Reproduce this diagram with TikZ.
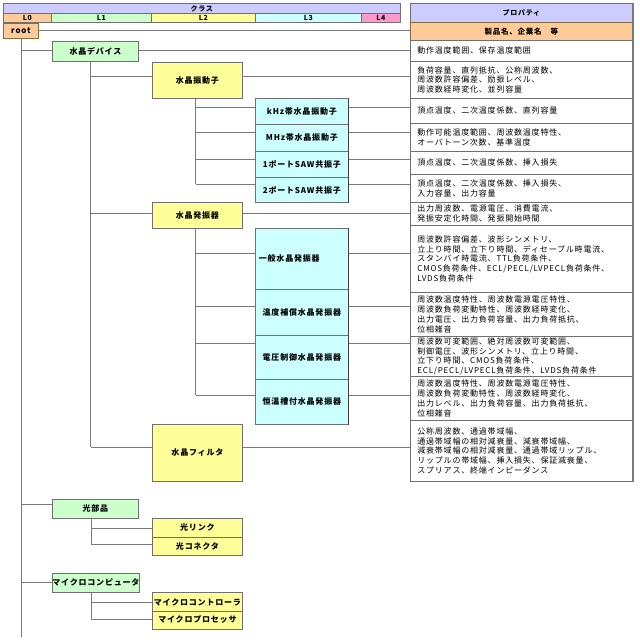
\documentclass[tikz,border=0pt]{standalone}
\usepackage{fontspec}
\setmainfont{Noto Sans CJK JP}[LetterSpace=10]
\definecolor{cPur}{HTML}{CCCCFF}
\definecolor{cOra}{HTML}{FFCC99}
\definecolor{cGrn}{HTML}{CCFFCC}
\definecolor{cYel}{HTML}{FFFF99}
\definecolor{cCya}{HTML}{CCFFFF}
\definecolor{cPnk}{HTML}{FF99CC}
\definecolor{cBd}{HTML}{707070}
\definecolor{cLn}{HTML}{7A7A7A}
\definecolor{cBrn}{HTML}{8A6A40}
\newcommand{\fsNode}{\fontsize{8}{9.8}\selectfont\bfseries}
\newcommand{\fsProp}{\fontsize{8}{9.8}\selectfont}
\newcommand{\fsHead}{\fontsize{7}{8}\selectfont\bfseries}
\tikzset{
  hdr/.style={draw=cBd, line width=0.7pt, inner sep=0pt, anchor=north west, font=\fsHead},
  cbox/.style={draw=cBd, line width=0.8pt, inner sep=0pt, anchor=north west, font=\fsNode, align=center},
  lone/.style={cbox, fill=cGrn, minimum width=86pt},
  ltwo/.style={cbox, fill=cYel, minimum width=90pt},
  lthree/.style={cbox, fill=cCya, minimum width=93pt},
  prow/.style={draw=cBd, line width=0.7pt, anchor=north west, inner xsep=7pt, inner ysep=0pt,
    text width=208pt, align=left, font=\fsProp},
  conn/.style={draw=cLn, line width=0.9pt},
}
\begin{document}
\begin{tikzpicture}[x=1pt,y=-1pt]
\useasboundingbox (0,0) rectangle (640,640);
% ---- header (class)
\node[hdr, fill=cPur, minimum width=397pt, minimum height=10pt] (cls) at (3,3) {クラス};
\node[hdr, fill=cOra, minimum width=48pt, minimum height=9pt] (l0) at (3,13) {L0};
\node[hdr, fill=cGrn, minimum width=100pt, minimum height=9pt] (l1) at (51,13) {L1};
\node[hdr, fill=cYel, minimum width=104pt, minimum height=9pt] (l2) at (151,13) {L2};
\node[hdr, fill=cCya, minimum width=106pt, minimum height=9pt] (l3) at (255,13) {L3};
\node[hdr, fill=cPnk, minimum width=39pt, minimum height=9pt] (l4) at (361,13) {L4};
% ---- property table
\node[prow, fill=cPur, minimum height=19pt, align=center, font=\fsHead] (p0) at (410,3) {プロパティ};
\node[prow, fill=cOra, draw=cBrn, minimum height=18pt, align=center, font=\fontsize{7.5}{8}\selectfont\bfseries] (p1) at (410,22) {製品名、企業名　等};
\node[prow, minimum height=21pt] (p2) at (410,40) {動作温度範囲、保存温度範囲};
\node[prow, minimum height=37pt] (p3) at (410,61) {負荷容量、直列抵抗、公称周波数、\\周波数許容偏差、励振レベル、\\周波数経時変化、並列容量};
\node[prow, minimum height=25pt] (p4) at (410,98) {頂点温度、二次温度係数、直列容量};
\node[prow, minimum height=28pt] (p5) at (410,123) {動作可能温度範囲、周波数温度特性、\\オーバトーン次数、基準温度};
\node[prow, minimum height=23pt] (p6) at (410,151) {頂点温度、二次温度係数、挿入損失};
\node[prow, minimum height=28pt] (p7) at (410,174) {頂点温度、二次温度係数、挿入損失、\\入力容量、出力容量};
\node[prow, minimum height=23pt] (p8) at (410,202) {出力周波数、電源電圧、消費電流、\\発振安定化時間、発振開始時間};
\node[prow, minimum height=67pt] (p9) at (410,225) {周波数許容偏差、波形シンメトリ、\\立上り時間、立下り時間、ディセーブル時電流、\\スタンバイ時電流、TTL負荷条件、\\CMOS負荷条件、ECL/PECL/LVPECL負荷条件、\\LVDS負荷条件};
\node[prow, minimum height=44pt] (p10) at (410,292) {周波数温度特性、周波数電源電圧特性、\\周波数負荷変動特性、周波数経時変化、\\出力電圧、出力負荷容量、出力負荷抵抗、\\位相雑音};
\node[prow, minimum height=40pt] (p11) at (410,336) {周波数可変範囲、絶対周波数可変範囲、\\制御電圧、波形シンメトリ、立上り時間、\\立下り時間、CMOS負荷条件、\\ECL/PECL/LVPECL負荷条件、LVDS負荷条件};
\node[prow, minimum height=44pt] (p12) at (410,376) {周波数温度特性、周波数電源電圧特性、\\周波数負荷変動特性、周波数経時変化、\\出力レベル、出力負荷容量、出力負荷抵抗、\\位相雑音};
\node[prow, minimum height=61pt] (p13) at (410,420) {公称周波数、通過帯域幅、\\通過帯域幅の相対減衰量、減衰帯域幅、\\減衰帯域幅の相対減衰量、通過帯域リップル、\\リップルの帯域幅、挿入損失、保証減衰量、\\スプリアス、終端インピーダンス};
\draw[draw=cLn, line width=2pt] (p0.north east) -- (p13.south east);
% ---- tree nodes
\node[cbox, fill=cOra, draw=cBrn, minimum width=35pt, minimum height=15pt] (root) at (3,23) {root};
\node[lone, minimum height=20pt] (dev) at (52,41) {水晶デバイス};
\node[ltwo, minimum height=36pt] (vib) at (152,62) {水晶振動子};
\node[lthree, minimum height=26pt] (khz) at (255,98) {kHz帯水晶振動子};
\node[lthree, minimum height=27pt] (mhz) at (255,124) {MHz帯水晶振動子};
\node[lthree, minimum height=26pt] (saw1) at (255,151) {1ポートSAW共振子};
\node[lthree, minimum height=25pt] (saw2) at (255,177) {2ポートSAW共振子};
\node[ltwo, minimum height=26pt] (osc) at (152,202) {水晶発振器};
\node[lthree, minimum height=61pt, text width=86pt, align=left] (gen) at (255,228) {一般水晶発振器};
\node[lthree, minimum height=46pt] (tcxo) at (255,289) {温度補償水晶発振器};
\node[lthree, minimum height=44pt] (vcxo) at (255,335) {電圧制御水晶発振器};
\node[lthree, minimum height=45pt] (ocxo) at (255,379) {恒温槽付水晶発振器};
\node[ltwo, minimum height=57pt] (filt) at (152,424) {水晶フィルタ};
\node[lone, minimum height=19pt] (opt) at (52,499) {光部品};
\node[ltwo, minimum height=18.5pt] (olink) at (152,518) {光リンク};
\node[ltwo, minimum height=18.5pt] (ocon) at (152,536.5) {光コネクタ};
\node[lone, minimum height=19pt] (mc) at (52,573) {マイクロコンピュータ};
\node[ltwo, minimum height=19.5pt] (mctl) at (152,592) {マイクロコントローラ};
\node[ltwo, minimum height=18pt] (mpro) at (152,610.5) {マイクロプロセッサ};
% darker right edge of the L3 column
\draw[draw=black!75, line width=0.9pt] (khz.north east) -- (saw2.south east);
\draw[draw=black!75, line width=0.9pt] (gen.north east) -- (ocxo.south east);
% ---- connector anchor points
\coordinate (trunkEnd) at (21.5,637);
\coordinate (cdev) at (21.5,50);
\coordinate (copt) at (21.5,504);
\coordinate (cmc) at (21.5,582);
\coordinate (cvib) at (90.7,76);
\coordinate (cosc) at (90.7,213);
\coordinate (cfilt) at (90.7,447);
\coordinate (ckhz) at (195.7,107);
\coordinate (cmhz) at (195.7,132);
\coordinate (csawa) at (195.7,159);
\coordinate (csawb) at (195.7,184);
\coordinate (cgen) at (195.7,253);
\coordinate (ctcxo) at (195.7,306);
\coordinate (cvcxo) at (195.7,343);
\coordinate (cocxo) at (195.7,395);
\coordinate (colink) at (91.3,528);
\coordinate (cocon) at (91.3,544);
\coordinate (cmctl) at (91.3,602);
\coordinate (cmpro) at (91.3,619);
% ---- connectors
\begin{scope}[conn]
\draw (cdev |- root.south) -- (trunkEnd);
\draw (root.east) -- (root.east -| p1.west);
% level 1
\draw (cdev) -- (cdev -| dev.west);  \draw (cdev -| dev.east) -- (cdev -| p2.west);
\draw (copt) -- (copt -| opt.west);
\draw (cmc) -- (cmc -| mc.west);
% vertical under L1
\draw (cvib |- dev.south) -- (cfilt);
\draw (colink |- opt.south) -- (cocon);
\draw (cmctl |- mc.south) -- (cmpro);
% level 2
\draw (cvib) -- (cvib -| vib.west);  \draw (cvib -| vib.east) -- (cvib -| p3.west);
\draw (cosc) -- (cosc -| osc.west);  \draw (cosc -| osc.east) -- (cosc -| p8.west);
\draw (cfilt) -- (cfilt -| filt.west);  \draw (cfilt -| filt.east) -- (cfilt -| p13.west);
\draw (colink) -- (colink -| olink.west);
\draw (cocon) -- (cocon -| ocon.west);
\draw (cmctl) -- (cmctl -| mctl.west);
\draw (cmpro) -- (cmpro -| mpro.west);
% vertical under L2
\draw (ckhz |- vib.south) -- (csawb);
\draw (cgen |- osc.south) -- (cocxo);
% level 3
\draw (ckhz) -- (ckhz -| khz.west);  \draw (ckhz -| khz.east) -- (ckhz -| p4.west);
\draw (cmhz) -- (cmhz -| mhz.west);  \draw (cmhz -| mhz.east) -- (cmhz -| p5.west);
\draw (csawa) -- (csawa -| saw1.west);  \draw (csawa -| saw1.east) -- (csawa -| p6.west);
\draw (csawb) -- (csawb -| saw2.west);  \draw (csawb -| saw2.east) -- (csawb -| p7.west);
\draw (cgen) -- (cgen -| gen.west);  \draw (cgen -| gen.east) -- (cgen -| p9.west);
\draw (ctcxo) -- (ctcxo -| tcxo.west);  \draw (ctcxo -| tcxo.east) -- (ctcxo -| p10.west);
\draw (cvcxo) -- (cvcxo -| vcxo.west);  \draw (cvcxo -| vcxo.east) -- (cvcxo -| p11.west);
\draw (cocxo) -- (cocxo -| ocxo.west);  \draw (cocxo -| ocxo.east) -- (cocxo -| p12.west);
\end{scope}
\end{tikzpicture}
\end{document}
